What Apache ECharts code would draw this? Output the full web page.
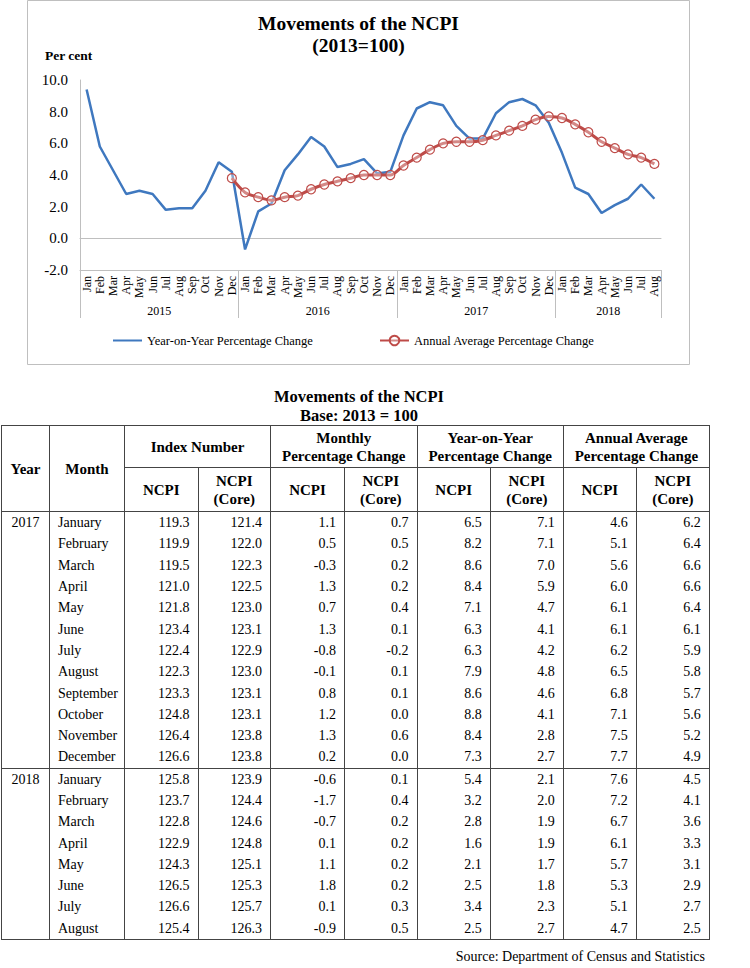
<!DOCTYPE html>
<html>
<head>
<meta charset="utf-8">
<script src="https://cdn.jsdelivr.net/npm/echarts@6/dist/echarts.min.js"></script>
<style>
  html,body{margin:0;padding:0;background:#fff;}
  body{width:750px;height:968px;position:relative;font-family:'Liberation Serif','Times New Roman',serif;color:#000;overflow:hidden;}
  #chart{position:absolute;left:0;top:0;width:750px;height:370px;}
  #tTitle{position:absolute;left:0;width:718px;top:387px;text-align:center;font-weight:bold;font-size:16.5px;line-height:19px;}
  #tbl{position:absolute;left:1px;top:425px;border-collapse:collapse;table-layout:fixed;width:707px;font-size:14px;}
  #tbl td,#tbl th{padding:0 8px;border-left:1.5px solid #444;border-right:1.5px solid #444;white-space:nowrap;overflow:hidden;}
  #tbl th{border:1.5px solid #444;font-weight:bold;font-size:15px;line-height:18px;text-align:center;vertical-align:middle;padding:0 2px;}
  #tbl td{height:21.3px;line-height:21px;text-align:right;}
  #tbl td.yr{text-align:center;padding:0;}
  #tbl td.mo{text-align:left;}
  #tbl tr.first td{border-top:1.5px solid #444;}
  #tbl tr.last td{border-bottom:1.5px solid #444;}
  #src{position:absolute;right:45px;top:949px;font-size:14px;line-height:16px;}
</style>
</head>
<body>
<div id="chart"></div>
<div id="tTitle">Movements of the NCPI<br>Base: 2013 = 100</div>
<table id="tbl"></table>
<div id="src">Source: Department of Census and Statistics</div>
<script>
// ---------- Chart data ----------
const monthAbbr = ['Jan','Feb','Mar','Apr','May','Jun','Jul','Aug','Sep','Oct','Nov','Dec'];
const chartYears = ['2015','2016','2017','2018'];
const chartYearMonths = [12, 12, 12, 8];
const yAxisTicks = [-2, 0, 2, 4, 6, 8, 10];
const chartYoY = [9.4,5.8,4.3,2.8,3.0,2.8,1.8,1.9,1.9,3.0,4.8,4.2,
  -0.7,1.7,2.2,4.3,5.3,6.4,5.8,4.5,4.7,5.0,4.1,4.2,
  6.5,8.2,8.6,8.4,7.1,6.3,6.3,7.9,8.6,8.8,8.4,7.3,
  5.4,3.2,2.8,1.6,2.1,2.5,3.4,2.5];
const chartAvg = [null,null,null,null,null,null,null,null,null,null,null,3.8,
  2.9,2.6,2.4,2.6,2.7,3.1,3.4,3.6,3.8,4.0,4.0,4.0,
  4.6,5.1,5.6,6.0,6.1,6.1,6.2,6.5,6.8,7.1,7.5,7.7,
  7.6,7.2,6.7,6.1,5.7,5.3,5.1,4.7];

// ---------- Table data ----------
const tableYears = ['2017','2018'];
const tableYearRows = [12, 8];
const tableMonths = ['January','February','March','April','May','June','July','August','September','October','November','December',
  'January','February','March','April','May','June','July','August'];
const ncpiIndex = [119.3,119.9,119.5,121.0,121.8,123.4,122.4,122.3,123.3,124.8,126.4,126.6,125.8,123.7,122.8,122.9,124.3,126.5,126.6,125.4];
const coreIndex = [121.4,122.0,122.3,122.5,123.0,123.1,122.9,123.0,123.1,123.1,123.8,123.8,123.9,124.4,124.6,124.8,125.1,125.3,125.7,126.3];
const monthlyNcpi = [1.1,0.5,-0.3,1.3,0.7,1.3,-0.8,-0.1,0.8,1.2,1.3,0.2,-0.6,-1.7,-0.7,0.1,1.1,1.8,0.1,-0.9];
const monthlyCore = [0.7,0.5,0.2,0.2,0.4,0.1,-0.2,0.1,0.1,0.0,0.6,0.0,0.1,0.4,0.2,0.2,0.2,0.2,0.3,0.5];
const yoyNcpi = [6.5,8.2,8.6,8.4,7.1,6.3,6.3,7.9,8.6,8.8,8.4,7.3,5.4,3.2,2.8,1.6,2.1,2.5,3.4,2.5];
const yoyCore = [7.1,7.1,7.0,5.9,4.7,4.1,4.2,4.8,4.6,4.1,2.8,2.7,2.1,2.0,1.9,1.9,1.7,1.8,2.3,2.7];
const avgNcpi = [4.6,5.1,5.6,6.0,6.1,6.1,6.2,6.5,6.8,7.1,7.5,7.7,7.6,7.2,6.7,6.1,5.7,5.3,5.1,4.7];
const avgCore = [6.2,6.4,6.6,6.6,6.4,6.1,5.9,5.8,5.7,5.6,5.2,4.9,4.5,4.1,3.6,3.3,3.1,2.9,2.7,2.5];
const groupHeaders = ['Index Number','Monthly<br>Percentage Change','Year-on-Year<br>Percentage Change','Annual Average<br>Percentage Change'];
const colWidths = [48,75,73.5,72.5,74,72.5,73.3,73,73,73];

// ---------- Build chart ----------
const cats = [];
chartYearMonths.forEach(n => { for (let i = 0; i < n; i++) cats.push(monthAbbr[i]); });
const bounds = [0]; const mids = [];
chartYearMonths.forEach(n => { const b = bounds[bounds.length-1]; mids.push(b + n/2); bounds.push(b + n); });
const total = bounds[bounds.length-1];

const FONT = "Liberation Serif";
const BLUE = '#3F78BF', RED = '#BE4B48', AXIS = '#BFBFBF';

const chart = echarts.init(document.getElementById('chart'), null, {renderer:'svg'});
chart.setOption({
  animation:false,
  textStyle:{fontFamily:FONT},
  grid:{left:80, top:80, width:581, height:190, containLabel:false},
  graphic:[
    {type:'rect', shape:{x:27.5, y:0.5, width:662, height:364}, style:{fill:'none', stroke:AXIS, lineWidth:1}, z:-1},
    {type:'text', x:358.5, y:23, style:{text:'Movements of the NCPI', textAlign:'center', textVerticalAlign:'middle', font:"bold 19.5px "+FONT, fill:'#000'}},
    {type:'text', x:358.5, y:45, style:{text:'(2013=100)', textAlign:'center', textVerticalAlign:'middle', font:"bold 19.5px "+FONT, fill:'#000'}},
    {type:'text', x:45, y:55, style:{text:'Per cent', textAlign:'left', textVerticalAlign:'middle', font:"bold 13.5px "+FONT, fill:'#000'}}
  ],
  legend:[
    {data:['Year-on-Year Percentage Change'], left:112, top:334, padding:0, itemWidth:29, itemHeight:12,
     itemStyle:{opacity:0},
     textStyle:{fontFamily:FONT, fontSize:12.5, color:'#000'}},
    {data:['Annual Average Percentage Change'], left:379, top:334, padding:0, itemWidth:29, itemHeight:12,
     textStyle:{fontFamily:FONT, fontSize:12.5, color:'#000'}}
  ],
  xAxis:[
    {type:'category', data:cats, boundaryGap:true,
     axisLine:{lineStyle:{color:AXIS, width:1}}, axisTick:{show:false},
     axisLabel:{interval:0, rotate:90, margin:6, fontSize:12, color:'#000', fontFamily:FONT},
     splitLine:{show:false}},
    {type:'value', min:0, max:total, position:'bottom',
     axisLine:{show:true, lineStyle:{color:AXIS, width:1}},
     axisTick:{show:true, customValues:bounds, length:48, lineStyle:{color:AXIS, width:1}},
     axisLabel:{customValues:mids, margin:35, fontSize:12, color:'#000', fontFamily:FONT,
       formatter:(v)=>{ const i = mids.indexOf(v); return i >= 0 ? chartYears[i] : ''; }},
     splitLine:{show:false}}
  ],
  yAxis:{type:'value', min:yAxisTicks[0], max:yAxisTicks[yAxisTicks.length-1], interval:2,
    axisLine:{show:true, lineStyle:{color:AXIS, width:1}}, axisTick:{show:false}, splitLine:{show:false},
    axisLabel:{formatter:(v)=>v.toFixed(1), margin:12, fontSize:15, color:'#000', fontFamily:FONT}},
  series:[
    {name:'Year-on-Year Percentage Change', type:'line', data:chartYoY, xAxisIndex:0,
     symbol:'none', color:BLUE, lineStyle:{color:BLUE, width:2.5}},
    {name:'Annual Average Percentage Change', type:'line', data:chartAvg, xAxisIndex:0,
     smooth:0.3, symbol:'circle', symbolSize:9, showAllSymbol:true, color:RED,
     lineStyle:{color:RED, width:3},
     itemStyle:{color:'rgba(255,255,255,0.35)', borderColor:RED, borderWidth:1.2}}
  ]
});

// ---------- Build table ----------
const tbl = document.getElementById('tbl');
let html = '<colgroup>' + colWidths.map(w => '<col style="width:'+w+'px">').join('') + '</colgroup>';
html += '<tr style="height:42px"><th rowspan="2">Year</th><th rowspan="2">Month</th>' +
  groupHeaders.map(h => '<th colspan="2">'+h+'</th>').join('') + '</tr>';
html += '<tr style="height:44px">' + groupHeaders.map(() => '<th>NCPI</th><th>NCPI<br>(Core)</th>').join('') + '</tr>';
const f = v => v.toFixed(1);
let idx = 0;
tableYears.forEach((y, yi) => {
  for (let r = 0; r < tableYearRows[yi]; r++, idx++) {
    const cls = (r === 0 ? 'first ' : '') + (r === tableYearRows[yi]-1 ? 'last' : '');
    html += '<tr class="'+cls+'"><td class="yr">'+(r===0?y:'')+'</td><td class="mo">'+tableMonths[idx]+'</td>' +
      [ncpiIndex, coreIndex, monthlyNcpi, monthlyCore, yoyNcpi, yoyCore, avgNcpi, avgCore]
        .map(a => '<td>'+f(a[idx])+'</td>').join('') + '</tr>';
  }
});
tbl.innerHTML = html;
</script>
</body>
</html>
